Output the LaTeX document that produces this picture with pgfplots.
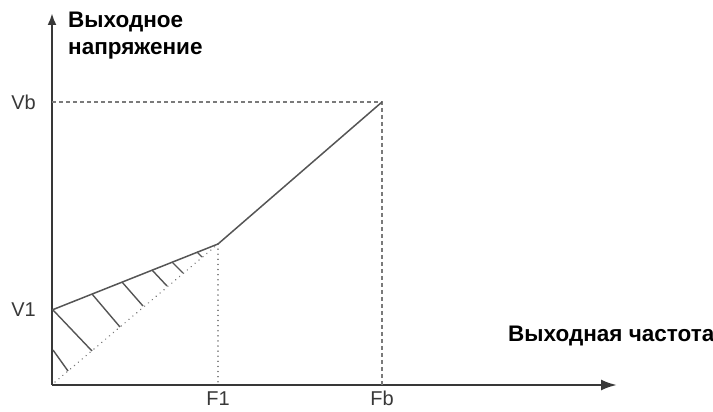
\documentclass[border=0pt]{standalone}
\usepackage{pgfplots}
\pgfplotsset{compat=1.18}
\usepackage{fontspec}
\setmainfont{Liberation Sans}
\usetikzlibrary{arrows.meta}

\definecolor{axiscol}{HTML}{383838}
\definecolor{curvecol}{HTML}{555555}
\definecolor{guidecol}{HTML}{7A7A7A}

\begin{document}
\begin{tikzpicture}[x=1pt,y=1pt]
  % page = reference frame, 1 unit = 1 px
  \useasboundingbox (-52,-27) rectangle (661,385);
  \begin{axis}[
      at={(0,0)}, anchor=south west,
      scale only axis,
      width=565pt, height=372pt,
      xmin=0, xmax=565,
      ymin=0, ymax=372,
      axis lines=left,
      axis line style={axiscol, line width=2.4pt},
      x axis line style={-{Latex[length=16pt,width=11pt]}},
      y axis line style={-{Latex[length=12pt,width=9pt]}},
      xtick={166,330}, xticklabels={F1,Fb},
      ytick={75,283}, yticklabels={V1,Vb},
      major tick length=0pt,
      tick label style={font=\fontsize{20}{22}\selectfont, text=axiscol},
      xticklabel style={anchor=base, inner sep=0pt, yshift=-21pt},
      yticklabel style={anchor=east, inner sep=0pt, xshift=-16pt},
      unbounded coords=jump,
      clip=false,
    ]
    % guide lines
    \addplot[guidecol, line width=1.2pt, dash pattern=on 4pt off 3pt] coordinates {(0,283) (330,283) (330,0)};
    \addplot[guidecol, line width=1.5pt, line cap=round, dash pattern=on 0.1pt off 5pt] coordinates {(166,141) (166,0)};
    \addplot[guidecol, line width=1.5pt, line cap=round, dash pattern=on 0.1pt off 5pt] coordinates {(3,3) (166,141)};
    % V/F curve
    \addplot[curvecol, line width=1.5pt] coordinates {(0,75) (166,141) (330,283)};
    % hatching of the boost region
    \addplot[curvecol, line width=1.4pt] coordinates {
      (1,35) (16,14) (0,nan)
      (1,75) (40,34) (0,nan)
      (40,91) (68,58) (0,nan)
      (70,103) (91,79) (0,nan)
      (100,115) (115,99) (0,nan)
      (120,123) (131,112) (0,nan)
      (145,133) (150,128)
    };
    \node[anchor=base west, inner sep=0pt, font=\bfseries\fontsize{22.5}{27}\selectfont]
      at (axis cs:16,357) {Выходное};
    \node[anchor=base west, inner sep=0pt, font=\bfseries\fontsize{22.5}{27}\selectfont]
      at (axis cs:16,330) {напряжение};
    \node[anchor=base west, inner sep=0pt, font=\bfseries\fontsize{22.5}{27}\selectfont]
      at (axis cs:456,43) {Выходная частота};
  \end{axis}
\end{tikzpicture}
\end{document}
